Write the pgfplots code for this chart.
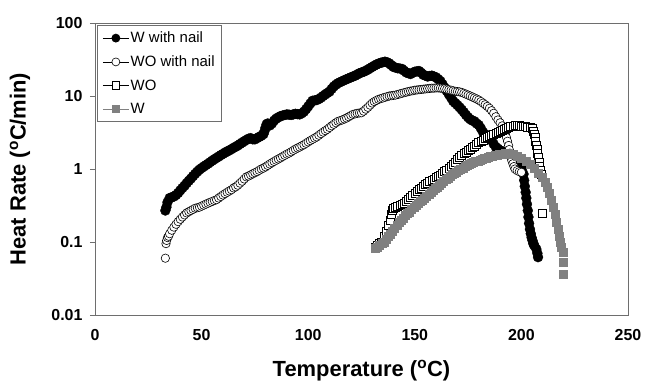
\documentclass[border=0pt]{standalone}
\usepackage{pgfplots}
\pgfplotsset{compat=1.18}
\usepackage{fontspec}
\setmainfont{Liberation Sans}
\definecolor{wgray}{RGB}{128,128,128}
\definecolor{framegray}{RGB}{110,110,110}

\pgfplotstableread{
x y
33.0 0.27
33.5 0.30
34.0 0.35
35.0 0.40
36.0 0.41
37.0 0.42
38.0 0.44
39.0 0.47
40.0 0.51
41.0 0.55
42.0 0.59
43.0 0.64
44.0 0.69
45.0 0.74
46.0 0.80
47.0 0.86
48.0 0.92
49.0 0.98
50.0 1.03
51.0 1.08
52.0 1.13
53.0 1.18
54.0 1.24
55.0 1.30
56.0 1.36
57.0 1.42
58.0 1.48
59.0 1.55
60.0 1.61
61.0 1.68
62.0 1.74
63.0 1.80
64.0 1.87
65.0 1.95
66.0 2.02
67.0 2.10
68.0 2.20
69.0 2.30
70.0 2.40
71.0 2.50
72.0 2.60
73.0 2.65
74.0 2.55
75.0 2.55
76.0 2.65
77.0 2.75
78.0 2.85
79.0 3.00
79.5 3.30
80.0 3.70
80.5 4.10
81.0 4.20
82.0 3.95
83.0 4.20
84.0 4.60
85.0 4.90
86.0 5.10
87.0 5.30
88.0 5.40
89.0 5.50
90.0 5.60
91.0 5.55
92.0 5.50
93.0 5.60
94.0 5.70
95.0 5.65
96.0 5.60
97.0 5.80
98.0 6.10
99.0 6.60
100.0 7.20
101.0 7.90
102.0 8.60
103.0 8.70
104.0 8.80
105.0 9.10
106.0 9.50
107.0 10.0
108.0 10.5
109.0 11.0
110.0 11.5
111.0 12.5
112.0 13.5
113.0 14.3
114.0 15.0
115.0 15.5
116.0 16.0
117.0 16.5
118.0 17.0
119.0 17.5
120.0 18.0
121.0 18.5
122.0 19.0
123.0 19.7
124.0 20.5
125.0 21.0
126.0 21.5
127.0 22.2
128.0 23.0
129.0 24.0
130.0 25.0
131.0 26.0
132.0 27.0
133.0 27.8
134.0 28.5
135.0 29.0
136.0 29.5
137.0 29.0
138.0 28.0
139.0 26.5
140.0 25.0
141.0 24.5
142.0 24.0
143.0 23.8
144.0 23.5
145.0 22.2
146.0 21.0
147.0 20.5
148.0 20.0
149.0 20.8
150.0 21.5
151.0 21.8
152.0 22.0
153.0 20.8
154.0 19.5
155.0 19.0
156.0 18.5
157.0 18.8
158.0 19.0
159.0 18.5
160.0 18.0
161.0 17.0
162.0 16.0
163.0 14.5
164.0 13.0
165.0 11.7
166.0 10.5
167.0 9.5
168.0 8.5
169.0 8.0
170.0 7.5
171.0 7.0
172.0 6.5
173.0 6.0
174.0 5.5
175.0 5.1
176.0 4.8
177.0 4.6
178.0 4.5
179.0 4.2
180.0 4.0
181.0 3.6
182.0 3.2
183.0 3.0
184.0 2.8
185.0 2.6
186.0 2.5
187.0 2.2
188.0 2.0
189.0 1.9
190.0 1.8
191.0 1.75
192.0 1.70
193.0 1.65
194.0 1.60
195.0 1.58
196.0 1.55
197.0 1.50
198.0 1.45
199.0 1.35
200.0 1.25
200.5 1.05
201.0 0.85
201.3 0.70
201.6 0.58
202.0 0.48
202.3 0.40
202.6 0.33
203.0 0.27
203.3 0.22
203.6 0.18
204.0 0.15
204.4 0.13
204.8 0.115
205.2 0.105
205.6 0.095
206.0 0.09
207.0 0.08
207.5 0.07
207.8 0.062
}\WNail

\pgfplotstableread{
x y
33.0 0.06
33.3 0.095
33.6 0.105
34.0 0.115
34.5 0.12
35.0 0.13
36.0 0.145
37.0 0.16
38.0 0.175
39.0 0.19
40.0 0.205
41.0 0.22
42.0 0.235
43.0 0.25
44.0 0.26
45.0 0.27
46.0 0.28
47.0 0.29
48.0 0.295
49.0 0.30
50.0 0.31
51.0 0.32
52.0 0.33
53.0 0.34
54.0 0.35
55.0 0.36
56.0 0.37
57.0 0.38
58.0 0.40
59.0 0.42
60.0 0.44
61.0 0.46
62.0 0.48
63.0 0.50
64.0 0.52
65.0 0.55
66.0 0.57
67.0 0.60
68.0 0.64
69.0 0.68
70.0 0.73
71.0 0.78
72.0 0.80
73.0 0.83
74.0 0.86
75.0 0.89
76.0 0.92
77.0 0.96
78.0 1.00
79.0 1.03
80.0 1.07
81.0 1.12
82.0 1.17
83.0 1.22
84.0 1.27
85.0 1.32
86.0 1.37
87.0 1.42
88.0 1.48
89.0 1.54
90.0 1.60
91.0 1.65
92.0 1.72
93.0 1.80
94.0 1.87
95.0 1.94
96.0 2.00
97.0 2.08
98.0 2.15
99.0 2.25
100.0 2.35
101.0 2.45
102.0 2.55
103.0 2.65
104.0 2.75
105.0 2.90
106.0 3.05
107.0 3.20
108.0 3.35
109.0 3.50
110.0 3.70
111.0 3.90
112.0 4.10
113.0 4.30
114.0 4.50
115.0 4.60
116.0 4.70
117.0 4.85
118.0 5.00
119.0 5.20
120.0 5.40
121.0 5.60
122.0 5.70
123.0 5.80
124.0 5.85
125.0 5.90
126.0 6.20
127.0 6.60
128.0 7.00
129.0 7.50
130.0 8.00
131.0 8.40
132.0 8.70
133.0 9.00
134.0 9.20
135.0 9.40
136.0 9.60
137.0 9.80
138.0 10.0
139.0 10.1
140.0 10.2
141.0 10.3
142.0 10.5
143.0 10.7
144.0 10.9
145.0 11.1
146.0 11.3
147.0 11.5
148.0 11.7
149.0 11.8
150.0 12.0
151.0 12.1
152.0 12.2
153.0 12.3
154.0 12.4
155.0 12.5
156.0 12.6
157.0 12.7
158.0 12.8
159.0 12.8
160.0 12.9
161.0 12.9
162.0 12.8
163.0 12.7
164.0 12.6
165.0 12.4
166.0 12.2
167.0 12.0
168.0 11.8
169.0 11.6
170.0 11.5
171.0 11.4
172.0 11.2
173.0 10.9
174.0 10.6
175.0 10.3
176.0 10.0
177.0 9.7
178.0 9.4
179.0 9.1
180.0 8.8
181.0 8.4
182.0 8.0
183.0 7.6
184.0 7.2
185.0 6.8
186.0 6.3
187.0 5.8
188.0 5.2
189.0 4.7
190.0 4.3
191.0 3.9
191.5 3.6
192.0 3.3
192.5 3.0
193.0 2.7
193.5 2.4
194.0 2.1
194.3 1.85
194.6 1.65
195.0 1.45
195.5 1.30
196.0 1.18
196.5 1.08
197.0 1.00
198.0 0.95
199.0 0.92
200.0 0.90
}\WONail

\pgfplotstableread{
x y
131.5 0.085
132.5 0.09
133.5 0.095
134.5 0.10
135.5 0.12
136.5 0.14
137.5 0.17
138.5 0.20
139.0 0.24
139.5 0.27
140.0 0.29
141.0 0.30
142.0 0.31
143.0 0.32
144.0 0.33
145.0 0.34
146.0 0.36
147.0 0.38
148.0 0.41
149.0 0.44
150.0 0.47
151.0 0.50
152.0 0.52
153.0 0.55
154.0 0.58
155.0 0.61
156.0 0.64
157.0 0.67
158.0 0.70
159.0 0.73
160.0 0.76
161.0 0.79
162.0 0.83
163.0 0.87
164.0 0.92
165.0 0.97
166.0 1.02
167.0 1.08
168.0 1.15
169.0 1.25
170.0 1.35
171.0 1.45
172.0 1.55
173.0 1.62
174.0 1.70
175.0 1.78
176.0 1.87
177.0 1.97
178.0 2.07
179.0 2.18
180.0 2.30
181.0 2.40
182.0 2.50
183.0 2.60
184.0 2.70
185.0 2.80
186.0 2.90
187.0 3.00
188.0 3.10
189.0 3.20
190.0 3.30
191.0 3.40
192.0 3.50
193.0 3.60
194.0 3.70
195.0 3.80
196.0 3.90
197.0 4.00
198.0 4.00
199.0 3.95
200.0 3.90
201.0 3.85
202.0 3.80
203.0 3.75
204.0 3.70
205.0 3.60
205.5 3.30
206.0 3.00
206.3 2.70
206.6 2.40
207.0 2.10
207.3 1.85
207.6 1.65
208.0 1.45
208.3 1.25
208.6 1.10
209.0 0.95
209.3 0.85
210.0 0.25
}\WO

\pgfplotstableread{
x y
131.5 0.082
132.5 0.085
133.5 0.09
134.5 0.095
135.5 0.10
136.5 0.11
137.5 0.12
138.5 0.13
139.5 0.14
140.5 0.155
141.5 0.17
142.5 0.185
143.5 0.20
144.5 0.215
145.5 0.23
146.5 0.245
147.5 0.26
148.5 0.28
149.5 0.30
150.5 0.32
151.5 0.34
152.5 0.36
153.5 0.38
154.5 0.40
155.5 0.42
156.5 0.45
157.5 0.48
158.5 0.51
159.5 0.54
160.5 0.57
161.5 0.60
162.5 0.64
163.5 0.68
164.5 0.72
165.5 0.76
166.5 0.80
167.5 0.84
168.5 0.88
169.5 0.92
170.5 0.96
171.5 1.00
172.5 1.04
173.5 1.08
174.5 1.12
175.5 1.16
176.5 1.20
177.5 1.24
178.5 1.27
179.5 1.30
180.5 1.33
181.5 1.36
182.5 1.39
183.5 1.42
184.5 1.45
185.5 1.48
186.5 1.51
187.5 1.54
188.5 1.56
189.5 1.58
190.5 1.60
191.5 1.62
192.5 1.63
193.5 1.63
194.5 1.62
196.0 1.58
198.0 1.50
200.0 1.40
202.0 1.28
204.0 1.15
206.0 1.02
208.0 0.88
209.5 0.78
211.0 0.66
212.0 0.56
213.0 0.47
214.0 0.38
215.0 0.30
215.8 0.24
216.5 0.19
217.2 0.15
217.8 0.12
218.3 0.10
218.8 0.085
219.4 0.073
219.5 0.053
219.6 0.036
}\Wplain

\begin{document}
\begin{tikzpicture}
\begin{axis}[
  at={(0,0)}, anchor=south west,
  scale only axis, width=533bp, height=292bp,
  ymode=log, xmin=0, xmax=250, ymin=0.01, ymax=100,
  xtick={0,50,100,150,200,250}, xticklabels={0,50,100,150,200,250},
  ytick={0.01,0.1,1,10,100}, yticklabels={0.01,0.1,1,10,100},
  yminorticks=false, xminorticks=false,
  ytick pos=left, xtick pos=bottom,
  tick align=outside, major tick length=5bp,
  xtick style={draw=none},
  ytick style={draw=framegray, line width=0.8pt},
  axis line style={draw=framegray, line width=1pt},
  tick label style={font=\fontsize{16}{16}\selectfont\bfseries},
  yticklabel style={xshift=-4bp},
  xticklabel style={yshift=-6bp},
  xlabel={Temperature (\textsuperscript{o}C)},
  ylabel={Heat Rate (\textsuperscript{o}C/min)},
  label style={font=\fontsize{22}{22}\selectfont\bfseries},
  xlabel style={at={(axis description cs:0.5,-0.209)}, anchor=base},
  ylabel style={at={(axis description cs:-0.141,0.5)}, anchor=center},
  legend style={at={(rel axis cs:0.004,0.993)}, anchor=north west,
    draw=framegray, line width=0.8pt, font=\fontsize{15}{15}\selectfont,
    inner xsep=5bp, inner ysep=5bp, row sep=8.5bp,
    nodes={inner sep=1.5bp}},
  legend cell align=left,
  clip=false,
]
\addplot[only marks, mark=*, mark size=5bp,
  mark options={fill=black, draw=black, line width=0.3pt},
  legend image code/.code={\draw[black, line width=0.7pt] (0bp,0bp)--(26bp,0bp);
    \path[mark=*, mark size=4bp, mark options={fill=black, draw=black}] plot coordinates {(13bp,0bp)};}]
  table[x=x,y=y] {\WNail};
\addlegendentry{W with nail}
\addplot[only marks, mark=*, mark size=4.2bp,
  mark options={fill=white, draw=black, line width=0.6pt},
  legend image code/.code={\draw[black, line width=0.7pt] (0bp,0bp)--(26bp,0bp);
    \path[mark=*, mark size=4bp, mark options={fill=white, draw=black, line width=0.6pt}] plot coordinates {(13bp,0bp)};}]
  table[x=x,y=y] {\WONail};
\addlegendentry{WO with nail}
\addplot[only marks, mark=square*, mark size=4bp,
  mark options={fill=white, draw=black, line width=0.6pt},
  legend image code/.code={\draw[black, line width=0.7pt] (0bp,0bp)--(26bp,0bp);
    \path[mark=square*, mark size=3.8bp, mark options={fill=white, draw=black, line width=0.6pt}] plot coordinates {(13bp,0bp)};}]
  table[x=x,y=y] {\WO};
\addlegendentry{WO}
\addplot[only marks, mark=square*, mark size=4bp,
  mark options={fill=wgray, draw=wgray, line width=0.3pt},
  legend image code/.code={\draw[wgray, line width=0.7pt] (0bp,0bp)--(26bp,0bp);
    \path[mark=square*, mark size=3.8bp, mark options={fill=wgray, draw=wgray}] plot coordinates {(13bp,0bp)};}]
  table[x=x,y=y] {\Wplain};
\addlegendentry{W}
\end{axis}
\path[use as bounding box] (-95bp,-66bp) rectangle (550bp,315bp);
\end{tikzpicture}
\end{document}
